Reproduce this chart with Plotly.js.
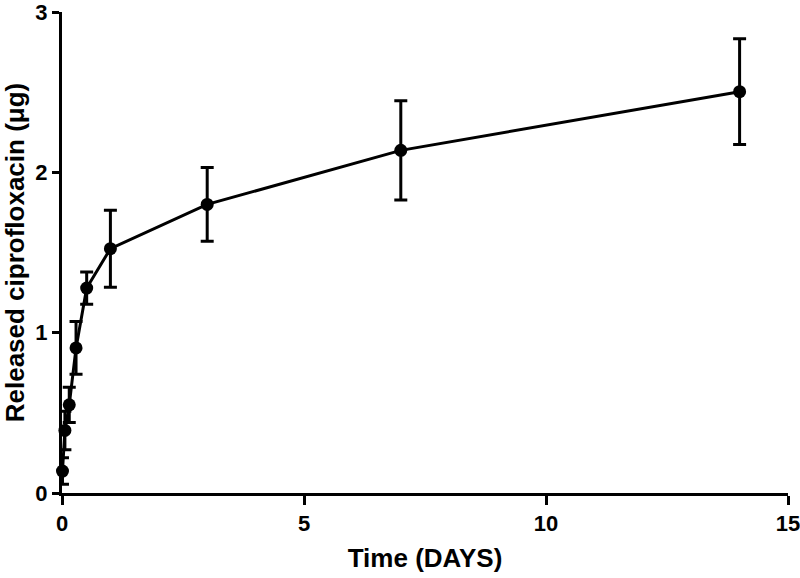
<!DOCTYPE html>
<html>
<head>
<meta charset="utf-8">
<script src="https://cdn.plot.ly/plotly-3.0.1.min.js"></script>
<style>html,body{margin:0;padding:0;background:#fff;}#chart{width:800px;height:578px;}</style>
</head>
<body>
<div id="chart"></div>
<script>
const timeDays = [0.01, 0.06, 0.15, 0.29, 0.51, 1, 3, 7, 14];
const released = [0.137, 0.39, 0.55, 0.905, 1.278, 1.524, 1.80, 2.137, 2.503];
const errors = [0.083, 0.12, 0.11, 0.165, 0.10, 0.24, 0.23, 0.31, 0.33];
const xTicks = [0, 5, 10, 15];
const yTicks = [0, 1, 2, 3];

const fontFam = 'Liberation Sans, Arial, sans-serif';

const trace = {
  x: timeDays,
  y: released,
  type: 'scatter',
  mode: 'lines+markers',
  line: {color: '#000', width: 3},
  marker: {color: '#000', size: 13},
  error_y: {type: 'data', array: errors, visible: true, color: '#000', thickness: 3, width: 6.5},
  cliponaxis: false,
  showlegend: false
};

const layout = {
  width: 800, height: 578,
  margin: {l: 62, r: 12, t: 12, b: 85},
  paper_bgcolor: '#fff', plot_bgcolor: '#fff',
  font: {family: fontFam, color: '#000'},
  xaxis: {
    range: [0, 15], tickvals: xTicks, ticktext: xTicks.map(String),
    showgrid: false, zeroline: false,
    showline: true, linecolor: '#000', linewidth: 3,
    ticks: 'outside', ticklen: 9, tickwidth: 3, tickcolor: '#000',
    ticklabeloverflow: 'allow',
    tickfont: {size: 22, weight: 'bold', family: fontFam},
    title: {text: 'Time (DAYS)', font: {size: 26, weight: 'bold', family: fontFam}, standoff: 14}
  },
  yaxis: {
    range: [0, 3], tickvals: yTicks, ticktext: yTicks.map(String),
    showgrid: false, zeroline: false,
    showline: true, linecolor: '#000', linewidth: 3,
    ticks: 'outside', ticklen: 7, tickwidth: 3, tickcolor: '#000',
    ticklabeloverflow: 'allow',
    tickfont: {size: 22, weight: 'bold', family: fontFam},
    title: {text: 'Released ciprofloxacin (μg)', font: {size: 26, weight: 'bold', family: fontFam}, standoff: 6}
  }
};

Plotly.newPlot('chart', [trace], layout, {displayModeBar: false, staticPlot: true});
</script>
</body>
</html>
